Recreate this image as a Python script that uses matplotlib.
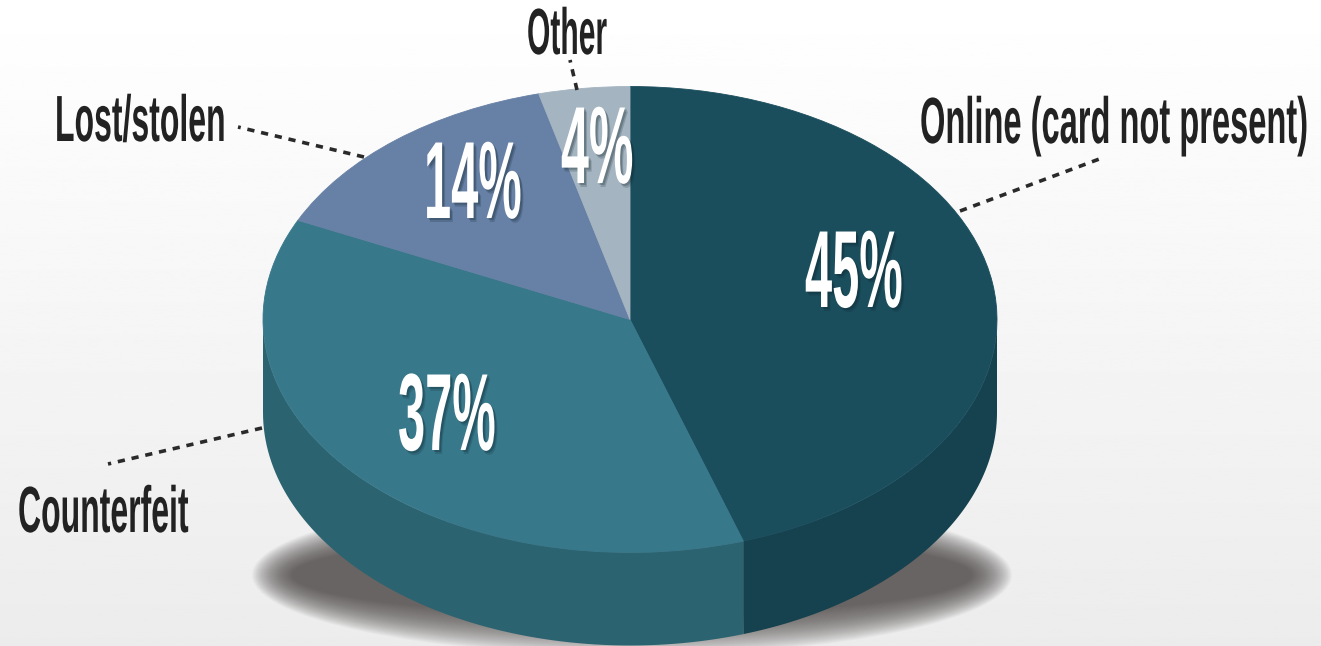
import numpy as np
import matplotlib
matplotlib.use("Agg")
import matplotlib.pyplot as plt
import matplotlib.patheffects as pe
from matplotlib.colors import to_rgb
from matplotlib.patches import Ellipse
from matplotlib.transforms import Affine2D

W, H = 1321, 646
CX, CY, RX, RY = 630, 319.5, 367, 233
DEPTH = 93

categories = ["Online (card not present)", "Counterfeit", "Lost/stolen", "Other"]
shares = [45, 37, 14, 4]
top_colors = ["#1b4e5d", "#38788b", "#6780a5", "#a4b4c0"]
wall_colors = ["#15424e", "#2c6370", "#2c6370", "#2c6370"]


class Tall(pe.AbstractPathEffect):
    # stretches the glyphs upward from the baseline, the font here is not condensed enough
    def __init__(self, sy, dx=0, dy=0, color=None, alpha=None):
        self.sy, self.dx, self.dy = sy, dx, dy
        self.color, self.alpha = color, alpha

    def draw_path(self, renderer, gc, tpath, affine, rgbFace=None):
        a = Affine2D().scale(1, self.sy) + affine + Affine2D().translate(self.dx, -self.dy)
        gc0 = renderer.new_gc()
        gc0.copy_properties(gc)
        if self.alpha is not None:
            gc0.set_alpha(self.alpha)
        face = to_rgb(self.color) if self.color else rgbFace
        renderer.draw_path(gc0, tpath, a, face)
        gc0.restore()


def px(x, y):
    return (x - CX) / RX, (CY - y) / RY


fig = plt.figure(figsize=(W / 100, H / 100), dpi=100)
ax = fig.add_axes([0, 0, 1, 1])

wedges, _ = ax.pie(shares, colors=top_colors, startangle=90, counterclock=False,
                   radius=1, wedgeprops=dict(linewidth=0))
for w, col in zip(wedges, top_colors):
    w.set_zorder(5)
    w.set_edgecolor(col)
    w.set_linewidth(0.6)
ax.set_aspect("auto")
x0, y0 = px(0, H)
x1, y1 = px(W, 0)
ax.set_xlim(x0, x1)
ax.set_ylim(y0, y1)
ax.axis("off")

# background, white at the top and light grey below
grad = np.linspace(1.0, 0.925, 256).reshape(-1, 1)
ax.imshow(grad, cmap="gray", vmin=0, vmax=1, extent=(x0, x1, y0, y1), aspect="auto",
          origin="upper", zorder=0)

# soft shadow under the pie
sx0, sy0 = px(632, 575)
for s in np.linspace(0, 40, 40):
    ax.add_patch(Ellipse((sx0, sy0), 2 * (380 - s) / RX, 2 * (80 - s) / RY, fc="#4d4847",
                         ec="none", alpha=0.034, zorder=1))

# side wall, only the front half of the rim shows
d = DEPTH / RY
start = 90.0
for val, col in zip(shares, wall_colors):
    end = start - val * 3.6
    lo, hi = max(end, -180), min(start, 0)
    if lo < hi:
        t = np.radians(np.linspace(lo, hi, 80))
        xs = np.r_[np.cos(t), np.cos(t)[::-1]]
        ys = np.r_[np.sin(t), np.sin(t)[::-1] - d]
        ax.fill(xs, ys, color=col, lw=0, zorder=3)
    start = end

# leader lines
leaders = [((960, 211), (1102, 158)), ((262, 428), (108, 464)),
           ((364, 157), (238, 127)), ((577, 90), (570, 60))]
for a, b in leaders:
    pa, pb = px(*a), px(*b)
    ax.plot([pa[0], pb[0]], [pa[1], pb[1]], color="#2a2a2a", lw=2.6,
            dashes=(2.0, 1.9), zorder=6)

# category labels: left x, baseline y, width factor (cap height stays 47 pt)
label_pos = [(920, 143, 0.50), (18, 532, 0.49), (55, 141, 0.49), (527, 54, 0.46)]
for name, (lx, ly, sq) in zip(categories, label_pos):
    tx, ty = px(lx, ly)
    ax.text(tx, ty, name, family="Liberation Sans", weight="bold",
            fontsize=47 * sq, color="#222222", ha="left", va="baseline", zorder=8,
            path_effects=[Tall(1 / sq)])

# percent labels
pct_pos = [(805, 307, 0.445), (398, 450, 0.445), (424, 218, 0.445), (561, 183, 0.457)]
for val, (lx, ly, sq) in zip(shares, pct_pos):
    tx, ty = px(lx, ly)
    ax.text(tx, ty, f"{val}%", family="Liberation Sans", weight="bold",
            fontsize=79 * sq, color="white", ha="left", va="baseline", zorder=8,
            path_effects=[Tall(1 / sq, 3, 4, color="#0a2028", alpha=0.18),
                          Tall(1 / sq, 2, 2, color="#0a2028", alpha=0.25),
                          Tall(1 / sq)])

fig.savefig("out.png", dpi=100)
